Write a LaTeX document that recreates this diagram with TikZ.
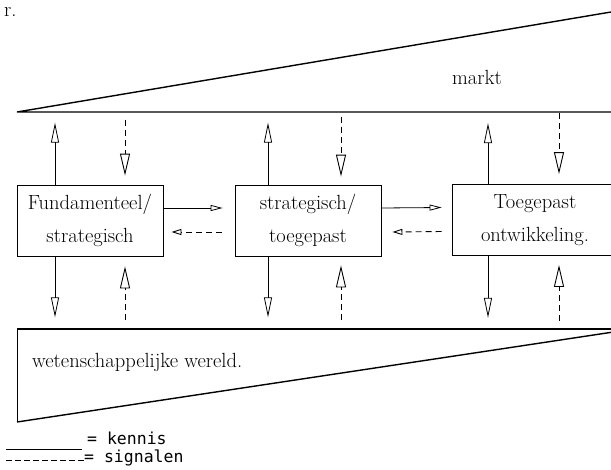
\documentclass[tikz,border=0pt]{standalone}
\usepackage{fontspec}
\newfontfamily\legfont{DejaVu Sans Mono}
\usetikzlibrary{arrows.meta}
\newcommand{\labfont}{\fontsize{20.5}{33}\selectfont}
\tikzset{
  wedge/.style={line width=1.4pt},
  box/.style={draw, line width=0.8pt, minimum height=71pt, inner sep=0pt, align=center, font=\labfont},
  kn/.style={line width=0.8pt, -{Triangle[open, length=20pt, width=8pt]}},
  sg/.style={line width=0.9pt, dash pattern=on 6pt off 4pt, -{Triangle[open, length=22pt, width=10pt]}},
  knh/.style={line width=0.8pt, -{Triangle[open, length=12pt, width=6pt]}},
  sgh/.style={line width=0.9pt, dash pattern=on 6pt off 4pt, -{Triangle[open, length=10pt, width=6pt]}},
  txt/.style={font=\labfont, inner sep=0pt},
  leg/.style={font=\legfont\fontsize{16.5}{18}\selectfont, inner sep=0pt, anchor=west}
}
\begin{document}
\begin{tikzpicture}[x=1pt,y=-1pt]
\useasboundingbox (0,0) rectangle (611,469);
\clip (0,0) rectangle (611,469);
% fragment top-left
\node[txt, anchor=west] (frag) at (4,12) {r.};
% top wedge (markt)
\coordinate (tl) at (17,112);
\coordinate (tr) at (611,12);
\coordinate (tr2) at (620,112);
\draw[wedge] (tr) -- (tl) -- (tr2);
\node[txt] (markt) at (477,77) {markt};
% bottom wedge (wetenschappelijke wereld)
\coordinate (bl) at (17,329);
\coordinate (br) at (620,329);
\coordinate (bc) at (17,422);
\coordinate (bs) at (620,331);
\draw[wedge] (br) -- (bl);
\draw[line width=0.8pt] (bl) -- (bc);
\draw[wedge] (bc) -- (bs);
\node[txt, anchor=west] (wet) at (32,362) {wetenschappelijke wereld.};
% boxes
\node[box, minimum width=146pt] (b1) at (90,220.5) {Fundamenteel/\\strategisch};
\node[box, minimum width=146pt] (b2) at (308,220.5) {strategisch/\\toegepast};
\node[box, minimum width=166pt] (b3) at (535,220) {Toegepast\\ontwikkeling.};
% horizontal arrows
\draw[knh] ([yshift=12.5pt]b1.east) -- ([xshift=-12pt,yshift=12.5pt]b2.west);
\draw[sgh] ([xshift=-13pt,yshift=-11.5pt]b2.west) -- ([xshift=8pt,yshift=-11.5pt]b1.east);
\draw[knh] ([yshift=12.5pt]b2.east) -- ([xshift=-10pt,yshift=12.5pt]b3.west);
\draw[sgh] ([xshift=-10pt,yshift=-11.5pt]b3.west) -- ([xshift=11pt,yshift=-11.5pt]b2.east);
% vertical arrows, top
\draw[kn] ([xshift=-35pt]b1.north) -- ([xshift=-35pt,yshift=62pt]b1.north);
\draw[sg] ([xshift=35pt,yshift=65pt]b1.north) -- ([xshift=35pt,yshift=9pt]b1.north);
\draw[kn] ([xshift=-40pt]b2.north) -- ([xshift=-40pt,yshift=62pt]b2.north);
\draw[sg] ([xshift=33pt,yshift=68pt]b2.north) -- ([xshift=33pt,yshift=8pt]b2.north);
\draw[kn] ([xshift=-47pt]b3.north) -- ([xshift=-47pt,yshift=61pt]b3.north);
\draw[sg] ([xshift=24pt,yshift=71pt]b3.north) -- ([xshift=24pt,yshift=10pt]b3.north);
% vertical arrows, bottom
\draw[kn] ([xshift=-35pt]b1.south) -- ([xshift=-35pt,yshift=-61pt]b1.south);
\draw[sg] ([xshift=35pt,yshift=-64pt]b1.south) -- ([xshift=35pt,yshift=-10pt]b1.south);
\draw[kn] ([xshift=-40pt]b2.south) -- ([xshift=-40pt,yshift=-61pt]b2.south);
\draw[sg] ([xshift=33pt,yshift=-64pt]b2.south) -- ([xshift=33pt,yshift=-9pt]b2.south);
\draw[kn] ([xshift=-47pt]b3.south) -- ([xshift=-47pt,yshift=-62pt]b3.south);
\draw[sg] ([xshift=24pt,yshift=-65pt]b3.south) -- ([xshift=24pt,yshift=-9pt]b3.south);
% legend
\node[leg] (lk) at (87,438) {= kennis};
\node[leg] (ls) at (84,458) {= signalen};
\coordinate (k0) at (6,449);
\coordinate (k1) at (82,449);
\coordinate (s0) at (6,460);
\draw[line width=0.8pt] (k0) -- (k1);
\draw[line width=0.9pt, dash pattern=on 6pt off 3pt] (s0) -- (ls.west |- s0);
\end{tikzpicture}
\end{document}
